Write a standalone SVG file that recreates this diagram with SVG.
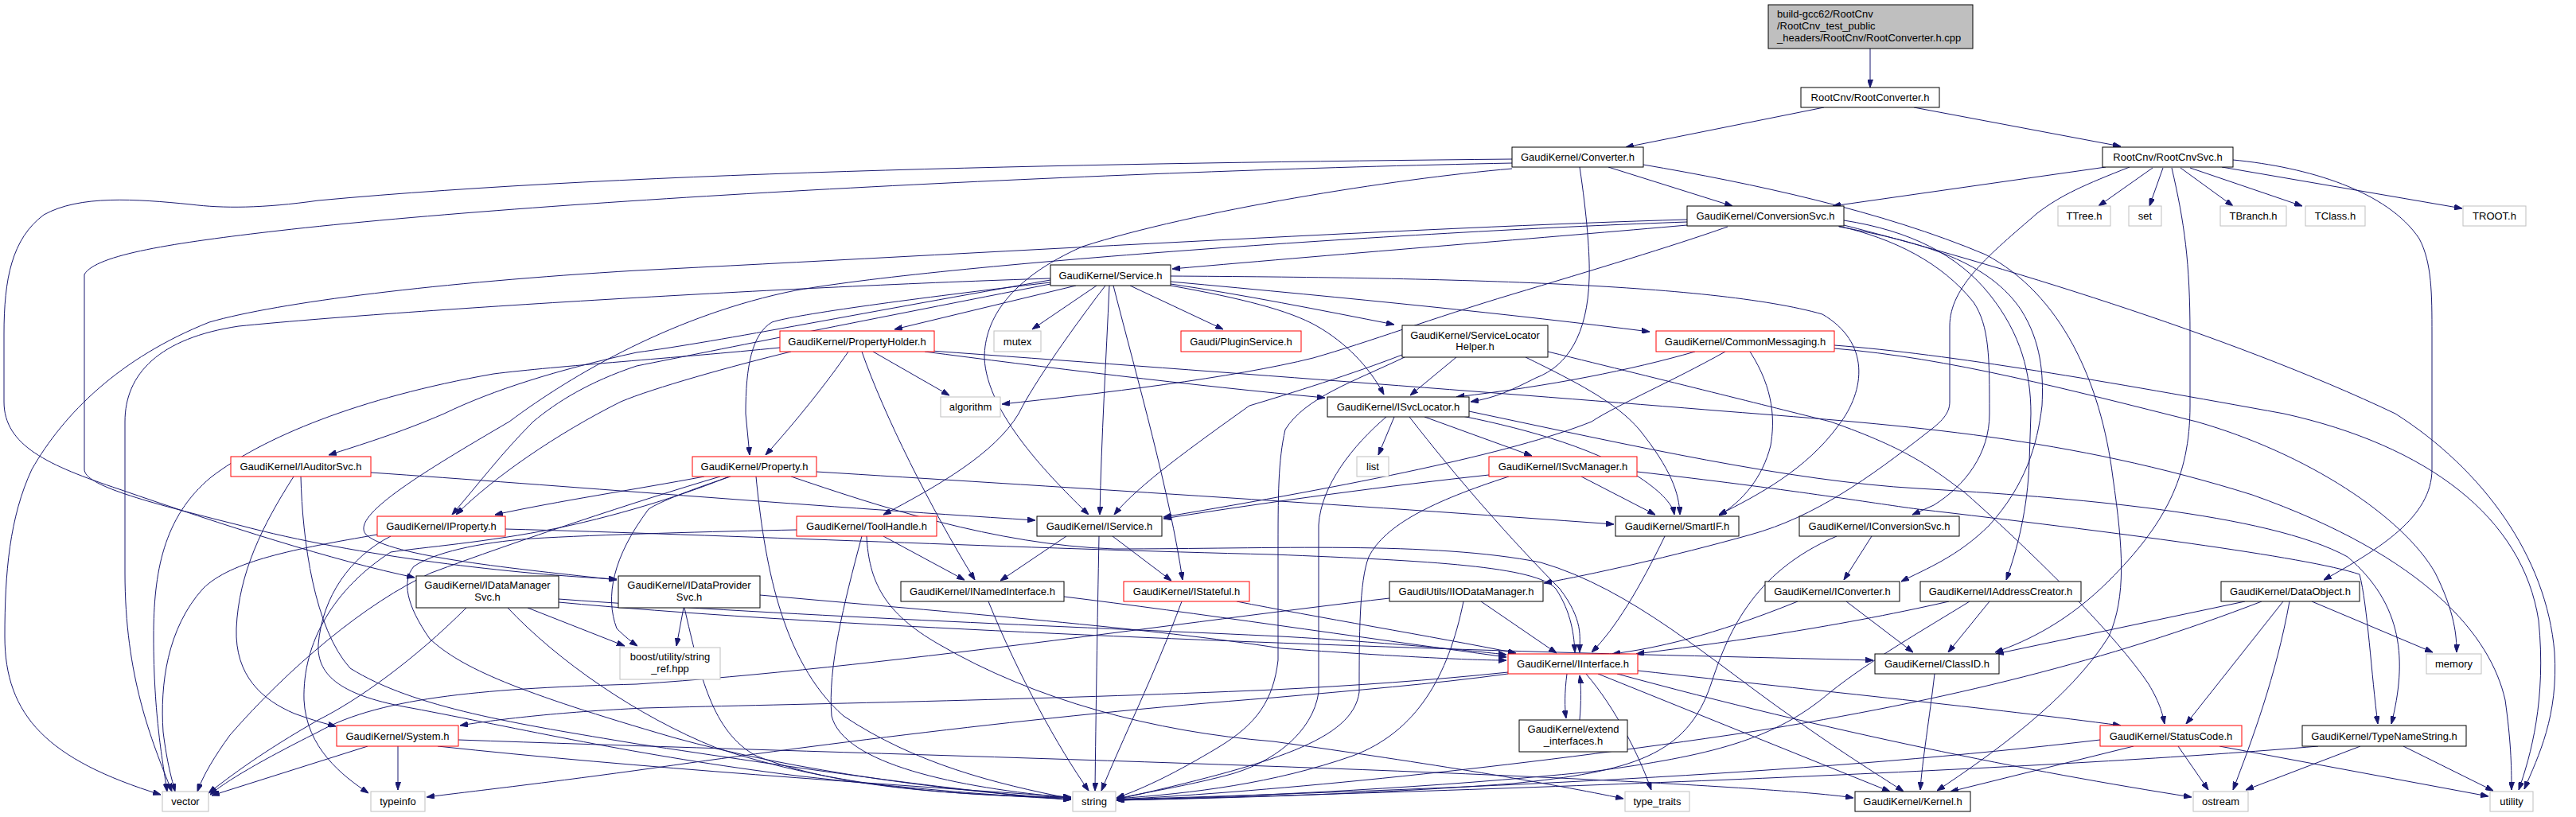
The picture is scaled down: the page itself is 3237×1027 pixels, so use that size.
<svg xmlns="http://www.w3.org/2000/svg" width="3237" height="1027" viewBox="0 0 3237 1027">
<style>
.n rect{fill:#fff;stroke:#000;stroke-width:1}
.n.r rect{stroke:#ff0000}
.n.g rect{stroke:#bfbfbf}
.n.root rect{fill:#bfbfbf}
.n text{font-family:"Liberation Sans",Arial,Helvetica,sans-serif;font-size:13px;fill:#000;text-anchor:middle}
.n.root text{text-anchor:start}
#edges path{fill:none;stroke:#191970;stroke-width:1;marker-end:url(#ah)}
</style>
<defs>
<marker id="ah" viewBox="0 0 10 7" refX="10" refY="3.5" markerWidth="10" markerHeight="7" markerUnits="userSpaceOnUse" orient="auto">
<path d="M0,0 L10,3.5 L0,7 z" fill="#191970" stroke="#191970"/>
</marker>
</defs>
<rect width="3237" height="1027" fill="#fff"/>
<g id="edges">
<path d="M2350,61 L2350,110"/>
<path d="M2292,135 L2043,185"/>
<path d="M2405,135 L2665,184"/>
<path d="M2021,210 L2177,259"/>
<path d="M2646,210 L2303,259"/>
<path d="M2705,211 L2637,259"/>
<path d="M2718,211 L2701,259"/>
<path d="M2740,211 L2806,259"/>
<path d="M2752,211 L2893,259"/>
<path d="M2792,210 L3094,262"/>
<path d="M2676,210 C2620,232 2590,245 2560,268 C2500,320 2450,360 2450,410 L2450,505 C2450,520 2440,530 2420,545 C2350,600 2280,650 2200,672 C2100,700 2000,722 1940,733"/>
<path d="M2729,211 C2745,280 2752,330 2752,420 L2752,510 C2752,600 2720,660 2650,730 C2600,780 2550,805 2507,820"/>
<path d="M2806,201 C2900,210 3000,240 3040,300 C3056,330 3056,370 3056,420 L3056,590 C3056,650 2990,690 2920,729"/>
<path d="M1985,210 C1994,270 1998,320 1997,350 C1995,420 1970,460 1930,475 C1900,490 1880,500 1848,505"/>
<path d="M1900,212 C1750,225 1500,265 1360,310 C1270,350 1237,400 1237,450 C1240,520 1320,600 1368,647"/>
<path d="M1900,205 C1400,215 700,250 350,290 C220,305 120,320 106,345 L106,590 C106,610 180,630 300,660 C450,700 650,722 775,728"/>
<path d="M1900,200 C1400,205 800,215 400,252 C330,262 280,262 240,257 C170,250 100,245 55,270 C15,300 5,350 5,420 L5,505 C5,560 60,585 150,615 C280,660 420,705 521,726"/>
<path d="M2065,207 C2200,230 2365,265 2495,320 C2590,370 2640,480 2655,600 C2668,690 2672,750 2650,800 C2600,880 2500,950 2434,994"/>
<path d="M2120,283 C1950,298 1700,318 1473,338"/>
<path d="M2120,276 C1800,285 1200,320 800,340 C550,355 350,380 263,405 C150,450 80,520 40,590 C12,650 6,720 6,800 C6,900 60,955 202,999"/>
<path d="M2120,279 C1800,290 1200,330 1000,365 C850,395 720,470 640,530 C520,600 440,650 460,672 C490,700 650,715 775,729"/>
<path d="M2171,285 C2100,310 2000,340 1900,370 C1800,400 1720,430 1650,450 C1550,475 1380,495 1259,508"/>
<path d="M2310,284 C2380,300 2440,330 2480,380 C2500,410 2500,450 2500,520 C2500,570 2470,610 2430,635 L2403,647"/>
<path d="M2311,285 C2420,305 2500,330 2540,390 C2565,430 2568,470 2566,510 C2560,560 2545,610 2500,660 C2460,700 2420,715 2389,731"/>
<path d="M2317,277 C2400,290 2460,320 2500,370 C2540,420 2552,470 2552,520 L2550,580 C2548,640 2535,690 2521,729"/>
<path d="M2317,283 C2500,330 2800,420 3010,520 C3120,590 3200,700 3210,820 C3215,900 3190,950 3172,992"/>
<path d="M1352,359 L1124,414"/>
<path d="M1378,359 L1297,414"/>
<path d="M1420,359 L1537,414"/>
<path d="M1471,357 C1560,370 1660,390 1752,408"/>
<path d="M1471,354 C1700,375 1900,395 2073,417"/>
<path d="M1471,359 C1560,375 1620,390 1655,410 C1690,430 1720,460 1739,496"/>
<path d="M1471,347 C1800,349 2150,355 2290,395 C2350,430 2345,490 2310,535 C2270,590 2210,622 2160,647"/>
<path d="M1394,359 C1390,450 1384,550 1382,647"/>
<path d="M1399,359 C1430,480 1470,620 1486,729"/>
<path d="M1389,359 C1350,410 1300,480 1280,520 C1250,570 1180,610 1110,647"/>
<path d="M1320,355 C1150,375 1000,395 970,405 C945,420 937,460 937,520 L942,572"/>
<path d="M1320,352 C1100,390 900,430 800,443 C700,465 620,490 558,520 C500,545 450,560 413,572"/>
<path d="M1320,357 C1100,400 900,440 800,460 C740,480 700,505 670,530 C630,570 600,610 568,647"/>
<path d="M1320,350 C1000,360 500,390 300,410 C200,425 157,470 157,530 L157,720 C157,850 190,930 216,995"/>
<path d="M1097,442 L1193,497"/>
<path d="M1066,442 C1040,480 1000,530 962,572"/>
<path d="M1083,442 C1110,520 1170,640 1225,729"/>
<path d="M994,442 C920,460 820,488 780,505 C700,545 620,600 573,647"/>
<path d="M980,437 C850,450 700,460 620,470 C450,500 330,550 265,600 C205,650 193,720 193,800 C193,900 205,960 210,995"/>
<path d="M1162,442 C1300,460 1500,485 1665,500"/>
<path d="M1170,441 C1500,465 1900,495 2168,517 C2400,535 2600,550 2830,622 C3050,700 3130,800 3148,880 C3155,930 3156,960 3156,993"/>
<path d="M2130,442 C2050,465 1950,485 1830,499"/>
<path d="M2168,442 C2100,480 2030,510 2000,530 C1900,570 1700,610 1462,650"/>
<path d="M2199,442 C2230,490 2230,530 2225,560 C2215,600 2190,630 2160,648"/>
<path d="M2305,434 C2450,445 2650,480 2870,520 C3050,560 3170,650 3190,780 C3200,880 3180,950 3165,993"/>
<path d="M2305,438 C2450,450 2600,490 2760,530 C2900,570 3020,650 3060,720 C3085,770 3087,800 3087,820"/>
<path d="M1830,449 L1772,497"/>
<path d="M1762,446 C1700,470 1620,495 1570,510 C1500,560 1430,610 1400,647"/>
<path d="M1765,449 C1700,480 1640,500 1615,540 C1606,580 1606,620 1606,700 L1606,830 C1600,880 1580,910 1530,940 C1480,970 1440,990 1403,1003"/>
<path d="M1917,449 C1980,480 2030,505 2060,540 C2100,590 2110,620 2111,647"/>
<path d="M1945,442 C2100,480 2220,510 2300,530 C2400,565 2430,590 2470,620 C2560,700 2660,800 2700,860 C2715,885 2718,900 2720,910"/>
<path d="M1752,524 L1732,572"/>
<path d="M1790,524 L1925,573"/>
<path d="M1827,521 C1900,535 2000,560 2060,600 C2090,620 2102,635 2104,647"/>
<path d="M1771,524 C1830,600 1900,680 1960,740 C1990,780 1985,800 1985,820"/>
<path d="M1742,524 C1700,560 1660,610 1657,660 L1657,870 C1650,920 1600,960 1540,975 C1490,988 1440,996 1403,1004"/>
<path d="M1846,517 C2050,560 2250,605 2410,614 C2600,625 2850,645 2950,700 C3020,760 3025,830 3005,910"/>
<path d="M1987,599 L2080,647"/>
<path d="M1871,597 C1750,610 1600,630 1462,652"/>
<path d="M2057,593 C2250,615 2350,632 2410,640 C2650,668 2900,700 2965,722 C2975,760 2980,850 2988,910"/>
<path d="M1896,599 C1800,630 1740,660 1720,700 C1708,730 1708,800 1708,870 C1700,930 1600,960 1403,1005"/>
<path d="M885,599 C800,615 700,630 622,647"/>
<path d="M905,599 C800,630 650,680 542,720 C460,757 362,840 289,924 C270,950 255,975 248,995"/>
<path d="M1026,593 C1300,610 1700,635 2028,659"/>
<path d="M994,599 C1100,635 1250,685 1400,690 C1600,690 1800,680 1936,707 C2050,740 2150,830 2250,900 C2320,950 2370,980 2392,995"/>
<path d="M950,599 C960,700 980,830 1060,900 C1150,960 1250,985 1346,1004"/>
<path d="M918,599 C870,615 830,630 815,640 C770,700 760,750 775,790 C785,800 795,808 801,812"/>
<path d="M916,599 C870,618 790,645 700,664 C610,682 530,688 491,694 C420,740 380,807 382,880 C385,940 430,975 463,997"/>
<path d="M1110,674 L1212,729"/>
<path d="M1083,674 C1060,760 1040,840 1045,900 C1060,960 1200,990 1346,1003"/>
<path d="M1089,674 C1092,730 1110,770 1180,810 C1300,880 1450,920 1600,932 C1800,960 1950,985 2040,1004"/>
<path d="M1001,666 C900,668 750,672 668,677 C600,682 545,695 520,712 C505,730 510,760 540,803 C580,840 650,870 846,927 C1000,970 1200,995 1346,1005"/>
<path d="M369,599 C330,660 300,720 297,790 C295,850 330,880 370,897 C395,906 410,910 422,913"/>
<path d="M378,599 C380,680 395,790 440,840 C520,890 650,910 800,935 C1000,965 1200,995 1346,1005"/>
<path d="M466,594 C700,610 1000,635 1301,654"/>
<path d="M474,672 C370,690 290,705 255,740 C210,790 201,860 205,920 C210,960 216,980 220,995"/>
<path d="M491,674 C440,700 405,750 400,810 C398,850 430,875 517,890 C650,915 800,950 1000,975 C1150,992 1250,1000 1346,1005"/>
<path d="M635,665 C900,672 1300,690 1600,697 C1800,705 1930,712 1955,740 C1975,770 1978,800 1979,820"/>
<path d="M1340,674 L1257,730"/>
<path d="M1398,674 L1472,730"/>
<path d="M1381,674 C1379,780 1377,900 1376,994"/>
<path d="M1242,756 C1280,850 1330,940 1368,994"/>
<path d="M1337,750 C1500,770 1700,800 1893,826"/>
<path d="M1485,756 C1450,850 1410,930 1384,994"/>
<path d="M1554,756 C1650,775 1800,800 1905,821"/>
<path d="M586,764 C520,830 450,880 400,905 C330,945 290,975 262,997"/>
<path d="M638,764 C700,830 800,900 900,940 C1050,990 1200,1000 1346,1003"/>
<path d="M663,764 L785,812"/>
<path d="M702,753 C1000,775 1400,790 1610,800 C1750,808 1850,818 1893,823"/>
<path d="M702,757 C1000,785 1500,805 1800,815 C2000,822 2200,826 2354,830"/>
<path d="M860,764 C880,850 895,920 950,950 C1050,990 1200,1000 1346,1002"/>
<path d="M859,764 L850,812"/>
<path d="M955,748 C1200,770 1450,790 1610,815 C1750,825 1850,830 1893,830"/>
<path d="M1861,756 L1956,821"/>
<path d="M1839,756 C1820,850 1780,920 1700,950 C1600,985 1500,997 1403,1004"/>
<path d="M1746,752 C1500,780 1100,840 800,860 C620,865 480,875 400,920 C320,960 280,985 264,999"/>
<path d="M2352,674 L2317,729"/>
<path d="M2308,674 C2200,720 2170,800 2150,860 C2120,950 2050,970 1900,985 C1700,1000 1500,1004 1403,1006"/>
<path d="M2259,756 C2150,800 2080,815 2026,822"/>
<path d="M2320,756 L2404,820"/>
<path d="M2449,756 C2300,790 2150,810 2056,822"/>
<path d="M2500,756 L2448,820"/>
<path d="M2475,756 C2420,790 2350,830 2300,870 C2230,930 2150,950 2000,970 C1800,990 1600,1000 1403,1006"/>
<path d="M2821,756 L2508,822"/>
<path d="M2869,756 L2747,910"/>
<path d="M2905,756 L3057,820"/>
<path d="M2877,756 C2860,850 2830,930 2806,993"/>
<path d="M2842,756 C2650,830 2450,880 2200,920 C1900,965 1600,995 1403,1005"/>
<path d="M2681,938 L2451,995"/>
<path d="M2737,938 L2775,993"/>
<path d="M2789,938 L3127,1001"/>
<path d="M2639,930 C2300,970 1900,990 1403,1005"/>
<path d="M2966,938 L2822,993"/>
<path d="M3020,938 L3133,994"/>
<path d="M2913,938 C2600,965 2000,990 1403,1006"/>
<path d="M2431,847 C2425,900 2415,960 2413,993"/>
<path d="M1969,847 C1966,870 1966,890 1968,903"/>
<path d="M1985,905 C1987,880 1987,865 1985,849"/>
<path d="M1895,845 C1800,855 1700,862 1600,867 C1300,880 1000,885 810,890 C700,895 620,905 578,912"/>
<path d="M1895,847 C1800,860 1700,868 1600,877 C1300,900 1000,940 810,967 C680,985 590,995 536,1002"/>
<path d="M1993,847 C2030,890 2060,950 2075,993"/>
<path d="M2008,847 L2375,995"/>
<path d="M2032,847 C2300,920 2550,970 2754,1002"/>
<path d="M2058,843 C2300,870 2500,890 2665,912"/>
<path d="M2092,674 C2060,740 2030,790 2000,820"/>
<path d="M462,938 L266,1000"/>
<path d="M500,938 L500,993"/>
<path d="M550,938 C800,965 1100,985 1346,1002"/>
<path d="M576,930 C1000,945 1600,960 2000,980 C2200,990 2300,998 2329,1003"/>
</g>
<g id="n_root" class="n root"><rect x="2222" y="6" width="257" height="55"/><text x="2233" y="21.5">build-gcc62/RootCnv</text><text x="2233" y="36.5">/RootCnv_test_public</text><text x="2233" y="51.5">_headers/RootCnv/RootConverter.h.cpp</text></g>
<g id="n_RootConverter" class="n"><rect x="2263" y="110" width="174" height="25"/><text x="2350" y="127">RootCnv/RootConverter.h</text></g>
<g id="n_Converter" class="n"><rect x="1900" y="185" width="165" height="25"/><text x="1982.5" y="202">GaudiKernel/Converter.h</text></g>
<g id="n_RootCnvSvc" class="n"><rect x="2642" y="185" width="164" height="25"/><text x="2724" y="202">RootCnv/RootCnvSvc.h</text></g>
<g id="n_ConversionSvc" class="n"><rect x="2120" y="259" width="197" height="25"/><text x="2218.5" y="276">GaudiKernel/ConversionSvc.h</text></g>
<g id="n_TTree" class="n g"><rect x="2586" y="259" width="66" height="25"/><text x="2619" y="276">TTree.h</text></g>
<g id="n_set" class="n g"><rect x="2675" y="259" width="41" height="25"/><text x="2695.5" y="276">set</text></g>
<g id="n_TBranch" class="n g"><rect x="2790" y="259" width="83" height="25"/><text x="2831.5" y="276">TBranch.h</text></g>
<g id="n_TClass" class="n g"><rect x="2897" y="259" width="75" height="25"/><text x="2934.5" y="276">TClass.h</text></g>
<g id="n_TROOT" class="n g"><rect x="3095" y="259" width="79" height="25"/><text x="3134.5" y="276">TROOT.h</text></g>
<g id="n_Service" class="n"><rect x="1320" y="333" width="151" height="26"/><text x="1395.5" y="350.5">GaudiKernel/Service.h</text></g>
<g id="n_PropertyHolder" class="n r"><rect x="980" y="416" width="194" height="26"/><text x="1077" y="433.5">GaudiKernel/PropertyHolder.h</text></g>
<g id="n_mutex" class="n g"><rect x="1249" y="416" width="59" height="26"/><text x="1278.5" y="433.5">mutex</text></g>
<g id="n_PluginService" class="n r"><rect x="1484" y="416" width="151" height="26"/><text x="1559.5" y="433.5">Gaudi/PluginService.h</text></g>
<g id="n_ServiceLocatorHelper" class="n"><rect x="1762" y="409" width="183" height="40"/><text x="1853.5" y="425.5">GaudiKernel/ServiceLocator</text><text x="1853.5" y="440">Helper.h</text></g>
<g id="n_CommonMessaging" class="n r"><rect x="2081" y="416" width="224" height="26"/><text x="2193" y="433.5">GaudiKernel/CommonMessaging.h</text></g>
<g id="n_algorithm" class="n g"><rect x="1182" y="499" width="75" height="25"/><text x="1219.5" y="516">algorithm</text></g>
<g id="n_ISvcLocator" class="n"><rect x="1668" y="499" width="178" height="25"/><text x="1757" y="516">GaudiKernel/ISvcLocator.h</text></g>
<g id="n_IAuditorSvc" class="n r"><rect x="290" y="574" width="176" height="25"/><text x="378" y="591">GaudiKernel/IAuditorSvc.h</text></g>
<g id="n_Property" class="n r"><rect x="870" y="574" width="156" height="25"/><text x="948" y="591">GaudiKernel/Property.h</text></g>
<g id="n_list" class="n g"><rect x="1705" y="574" width="40" height="25"/><text x="1725" y="591">list</text></g>
<g id="n_ISvcManager" class="n r"><rect x="1871" y="574" width="186" height="25"/><text x="1964" y="591">GaudiKernel/ISvcManager.h</text></g>
<g id="n_IProperty" class="n r"><rect x="474" y="649" width="161" height="25"/><text x="554.5" y="666">GaudiKernel/IProperty.h</text></g>
<g id="n_ToolHandle" class="n r"><rect x="1001" y="649" width="176" height="25"/><text x="1089" y="666">GaudiKernel/ToolHandle.h</text></g>
<g id="n_IService" class="n"><rect x="1303" y="649" width="157" height="25"/><text x="1381.5" y="666">GaudiKernel/IService.h</text></g>
<g id="n_SmartIF" class="n"><rect x="2030" y="649" width="155" height="25"/><text x="2107.5" y="666">GaudiKernel/SmartIF.h</text></g>
<g id="n_IConversionSvc" class="n"><rect x="2261" y="649" width="201" height="25"/><text x="2361.5" y="666">GaudiKernel/IConversionSvc.h</text></g>
<g id="n_IDataManagerSvc" class="n"><rect x="523" y="724" width="179" height="40"/><text x="612.5" y="739.5">GaudiKernel/IDataManager</text><text x="612.5" y="754.5">Svc.h</text></g>
<g id="n_IDataProviderSvc" class="n"><rect x="777" y="724" width="178" height="40"/><text x="866" y="739.5">GaudiKernel/IDataProvider</text><text x="866" y="754.5">Svc.h</text></g>
<g id="n_INamedInterface" class="n"><rect x="1132" y="731" width="205" height="25"/><text x="1234.5" y="748">GaudiKernel/INamedInterface.h</text></g>
<g id="n_IStateful" class="n r"><rect x="1412" y="731" width="158" height="25"/><text x="1491" y="748">GaudiKernel/IStateful.h</text></g>
<g id="n_IIODataManager" class="n"><rect x="1746" y="731" width="193" height="25"/><text x="1842.5" y="748">GaudiUtils/IIODataManager.h</text></g>
<g id="n_IConverter" class="n"><rect x="2218" y="731" width="169" height="25"/><text x="2302.5" y="748">GaudiKernel/IConverter.h</text></g>
<g id="n_IAddressCreator" class="n"><rect x="2413" y="731" width="202" height="25"/><text x="2514" y="748">GaudiKernel/IAddressCreator.h</text></g>
<g id="n_DataObject" class="n"><rect x="2791" y="731" width="174" height="25"/><text x="2878" y="748">GaudiKernel/DataObject.h</text></g>
<g id="n_string_ref" class="n g"><rect x="779" y="814" width="126" height="40"/><text x="842" y="830">boost/utility/string</text><text x="842" y="844.5">_ref.hpp</text></g>
<g id="n_IInterface" class="n r"><rect x="1895" y="822" width="163" height="25"/><text x="1976.5" y="839">GaudiKernel/IInterface.h</text></g>
<g id="n_ClassID" class="n"><rect x="2356" y="822" width="156" height="25"/><text x="2434" y="839">GaudiKernel/ClassID.h</text></g>
<g id="n_memory" class="n g"><rect x="3049" y="822" width="69" height="25"/><text x="3083.5" y="839">memory</text></g>
<g id="n_extend_interfaces" class="n"><rect x="1909" y="905" width="136" height="40"/><text x="1977" y="920.5">GaudiKernel/extend</text><text x="1977" y="935.5">_interfaces.h</text></g>
<g id="n_System" class="n r"><rect x="423" y="912" width="153" height="26"/><text x="499.5" y="929.5">GaudiKernel/System.h</text></g>
<g id="n_StatusCode" class="n r"><rect x="2639" y="912" width="178" height="26"/><text x="2728" y="929.5">GaudiKernel/StatusCode.h</text></g>
<g id="n_TypeNameString" class="n"><rect x="2893" y="912" width="206" height="26"/><text x="2996" y="929.5">GaudiKernel/TypeNameString.h</text></g>
<g id="n_vector" class="n g"><rect x="204" y="995" width="58" height="25"/><text x="233" y="1012">vector</text></g>
<g id="n_typeinfo" class="n g"><rect x="466" y="995" width="68" height="25"/><text x="500" y="1012">typeinfo</text></g>
<g id="n_string" class="n g"><rect x="1348" y="995" width="54" height="25"/><text x="1375" y="1012">string</text></g>
<g id="n_type_traits" class="n g"><rect x="2042" y="995" width="81" height="25"/><text x="2082.5" y="1012">type_traits</text></g>
<g id="n_Kernel" class="n"><rect x="2331" y="995" width="145" height="25"/><text x="2403.5" y="1012">GaudiKernel/Kernel.h</text></g>
<g id="n_ostream" class="n g"><rect x="2756" y="995" width="69" height="25"/><text x="2790.5" y="1012">ostream</text></g>
<g id="n_utility" class="n g"><rect x="3129" y="995" width="54" height="25"/><text x="3156" y="1012">utility</text></g>
</svg>
